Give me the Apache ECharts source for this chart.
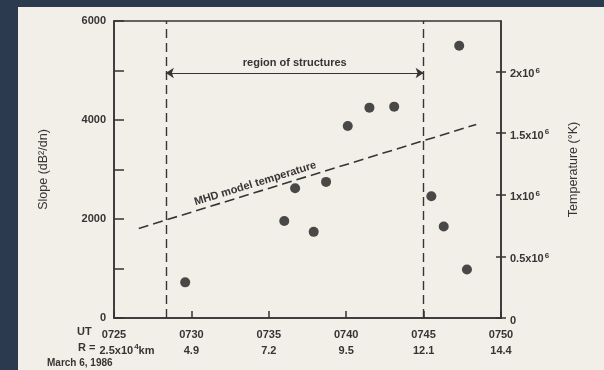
<!DOCTYPE html>
<html>
<head>
<meta charset="utf-8">
<script src="https://cdn.jsdelivr.net/npm/echarts@6/dist/echarts.min.js"></script>
<style>
html, body { margin: 0; padding: 0; background: #2c3a50; }
#main { width: 604px; height: 370px; }
</style>
</head>
<body>
<div id="main"></div>
<script>
// UT minutes past 07:00 and slope values
var utMin = [29.6, 36.0, 36.7, 37.9, 38.7, 40.1, 41.5, 43.1, 45.5, 46.3, 47.3, 47.8];
var slope = [720, 1960, 2620, 1740, 2750, 3880, 4250, 4270, 2460, 1850, 5500, 980];

var utLabels = ['0725', '0730', '0735', '0740', '0745', '0750'];
var rLabels = ['2.5x10|4|km', '4.9', '7.2', '9.5', '12.1', '14.4'];
var tempTicks = [0, 500000, 1000000, 1500000, 2000000];
var tempLabels = ['0', '0.5x10|6', '1x10|6', '1.5x10|6', '2x10|6'];

// region of structures and MHD model line
var regionBounds = [28.35, 45];
var regionY = 4950;
var mhdLine = [[26.6, 1810], [48.4, 3910]];

var ink = '#353535';
var font = 'Liberation Sans';

var pts = [];
for (var i = 0; i < utMin.length; i++) {
	pts.push([utMin[i], slope[i]]);
}

// 'a|b|c' -> normal a, superscript b, normal c
function supText(s) {
	var p = s.split('|');
	var out = '{t|' + p[0] + '}';
	if (p.length > 1) out += '{s|' + p[1] + '}';
	if (p.length > 2) out += '{t|' + p[2] + '}';
	return out;
}

var txt = { fontWeight: 'bold', fontSize: 11, fontFamily: font, color: ink, lineHeight: 16, verticalAlign: 'bottom' };
var sup = { fontWeight: 'bold', fontSize: 8, fontFamily: font, color: ink, verticalAlign: 'bottom', padding: [0, 0, 5, 1] };

var chart = echarts.init(document.getElementById('main'));

var option = {
	backgroundColor: '#2c3a50',
	animation: false,
	graphic: [
		{
			type: 'rect', z: -10,
			shape: { x: 18, y: 7, width: 600, height: 370 },
			style: { fill: '#f1efe7' }
		},
		{
			type: 'text', left: 77, top: 326,
			style: { text: 'UT', font: 'bold 11px ' + font, fill: ink }
		},
		{
			type: 'text', left: 78, top: 342,
			style: { text: 'R =', font: 'bold 11px ' + font, fill: ink }
		},
		{
			type: 'text', left: 47, top: 358,
			style: { text: 'March 6, 1986', font: 'bold 10px ' + font, fill: ink }
		}
	],
	grid: {
		left: 114, right: 103, top: 21, bottom: 52,
		show: true, borderColor: ink, borderWidth: 1.5
	},
	xAxis: {
		type: 'value', min: 25, max: 50, interval: 5,
		axisLine: { show: true, lineStyle: { color: ink, width: 1.5 } },
		axisTick: { inside: true, length: 7, lineStyle: { color: ink, width: 1.5 } },
		splitLine: { show: false },
		axisLabel: {
			margin: 6,
			lineHeight: 16,
			color: ink,
			fontFamily: font,
			fontWeight: 'bold',
			fontSize: 11,
			formatter: function(v) {
				var idx = Math.round((v - 25) / 5);
				var first = idx == 0 ? '{p|}' : '';
				return '{t|' + utLabels[idx] + '}\n' + first + supText(rLabels[idx]);
			},
			rich: {
				t: txt,
				s: sup,
				p: { width: 26 }
			}
		}
	},
	yAxis: [
		{
			type: 'value', min: 0, max: 6000, interval: 1000,
			name: 'Slope (dB²/dn)',
			nameLocation: 'middle', nameGap: 64, nameRotate: 90,
			nameTextStyle: { color: ink, fontFamily: font, fontSize: 12.5 },
			axisLine: { show: true, lineStyle: { color: ink, width: 1.5 } },
			axisTick: { inside: true, length: 10, lineStyle: { color: ink, width: 1.5 } },
			splitLine: { show: false },
			axisLabel: {
				color: ink, fontFamily: font, fontWeight: 'bold', fontSize: 11, margin: 8,
				formatter: function(v) { return v % 2000 == 0 ? String(v) : ''; }
			}
		},
		{
			type: 'value', min: 0, max: 2410000, position: 'right',
			name: 'Temperature (°K)',
			nameLocation: 'middle', nameGap: 66, nameRotate: 90,
			nameTextStyle: { color: ink, fontFamily: font, fontSize: 12.5 },
			axisLine: { show: true, lineStyle: { color: ink, width: 1.5 } },
			axisTick: { inside: false, length: 5, customValues: tempTicks, lineStyle: { color: ink, width: 1.5 } },
			splitLine: { show: false },
			axisLabel: {
				color: ink, fontFamily: font, fontWeight: 'bold', fontSize: 11, margin: 9,
				customValues: tempTicks,
				formatter: function(v) {
					var idx = tempTicks.indexOf(v);
					return idx < 0 ? '' : supText(tempLabels[idx]);
				},
				rich: { t: txt, s: sup }
			}
		},
		{
			type: 'value', min: 0, max: 2410000, position: 'right',
			axisLine: { show: false },
			axisTick: { inside: true, length: 5, customValues: tempTicks, lineStyle: { color: ink, width: 1.5 } },
			axisLabel: { show: false },
			splitLine: { show: false }
		}
	],
	series: [
		{
			type: 'scatter',
			data: pts,
			symbolSize: 10,
			itemStyle: { color: '#1e1e1e' },
			markLine: {
				silent: true,
				symbol: 'none',
				label: { show: false },
				lineStyle: { color: ink, width: 1.4, type: [9, 5] },
				data: [{ xAxis: regionBounds[0] }, { xAxis: regionBounds[1] }]
			}
		},
		{
			type: 'line',
			data: [],
			markLine: {
				silent: true,
				symbol: ['arrow', 'arrow'],
				symbolSize: 8,
				lineStyle: { color: ink, width: 1.2, type: 'solid' },
				label: {
					show: true, position: 'middle', formatter: 'region of structures',
					color: ink, fontFamily: font, fontWeight: 'bold', fontSize: 11, distance: 5
				},
				data: [[{ coord: [regionBounds[0], regionY] }, { coord: [regionBounds[1], regionY] }]]
			}
		},
		{
			type: 'line',
			data: [],
			markLine: {
				silent: true,
				symbol: 'none',
				lineStyle: { color: ink, width: 1.6, type: [10, 5] },
				label: {
					show: true, position: 'insideStartTop', formatter: 'MHD model temperature',
					color: ink, fontFamily: font, fontWeight: 'bold', fontSize: 11,
					padding: [0, 0, 0, 58], distance: 3
				},
				data: [[{ coord: mhdLine[0] }, { coord: mhdLine[1] }]]
			}
		}
	]
};

chart.setOption(option);
</script>
</body>
</html>
